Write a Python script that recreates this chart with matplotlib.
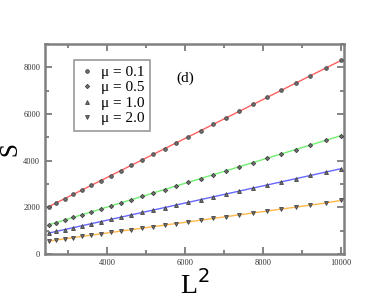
import matplotlib
matplotlib.use("Agg")
import matplotlib.pyplot as plt
from matplotlib.ticker import MultipleLocator

L2 = [2500, 2704, 2916, 3136, 3364, 3600, 3844, 4096, 4356, 4624, 4900, 5184, 5476,
      5776, 6084, 6400, 6724, 7056, 7396, 7744, 8100, 8464, 8836, 9216, 9604, 10000]
S_mu01 = [2030, 2201, 2378, 2562, 2752, 2950, 3154, 3364, 3582, 3806, 4036, 4274, 4518,
          4769, 5026, 5290, 5561, 5839, 6123, 6414, 6712, 7016, 7327, 7645, 7969, 8300]
S_mu05 = [1250, 1354, 1462, 1574, 1691, 1811, 1935, 2064, 2197, 2333, 2474, 2619, 2768,
          2921, 3078, 3239, 3404, 3574, 3747, 3924, 4106, 4292, 4481, 4675, 4873, 5080]
S_mu10 = [900, 975, 1053, 1134, 1218, 1305, 1395, 1487, 1583, 1682, 1783, 1888, 1995,
          2106, 2219, 2335, 2454, 2577, 2702, 2830, 2961, 3095, 3232, 3371, 3514, 3660]
S_mu20 = [560, 607, 655, 706, 758, 812, 868, 926, 986, 1047, 1110, 1175, 1242,
          1311, 1382, 1454, 1529, 1605, 1683, 1763, 1844, 1928, 2013, 2100, 2189, 2300]
labels = ["\u03bc = 0.1", "\u03bc = 0.5", "\u03bc = 1.0", "\u03bc = 2.0"]
xticks = [4000, 6000, 8000, 10000]
yticks = [0, 2000, 4000, 6000, 8000]

series = [S_mu01, S_mu05, S_mu10, S_mu20]
line_colors = ["#ff6060", "#70f070", "#6666ff", "#ffb84a"]
markers = ["o", "D", "^", "v"]
msizes = [2.6, 2.2, 2.8, 2.8]

plt.rcParams["font.family"] = ["Liberation Serif", "DejaVu Serif"]

fig = plt.figure(figsize=(3.88, 3.0), dpi=100)
ax = fig.add_axes([0.116, 0.153, 0.771, 0.700])

handles = []
for s, c, m, ms, lab in zip(series, line_colors, markers, msizes, labels):
    ax.plot(L2, s, color=c, lw=1.0, zorder=2)
    h, = ax.plot(L2, s, linestyle="none", marker=m, ms=ms, mfc="#707070",
                 mec="#404040", mew=0.6, zorder=3, label=lab)
    handles.append(h)

ax.set_xlim(2410, 10080)
ax.set_ylim(0, 9000)
ax.set_xticks(xticks)
ax.set_yticks(yticks)
ax.xaxis.set_minor_locator(MultipleLocator(1000))
ax.yaxis.set_minor_locator(MultipleLocator(1000))
ax.tick_params(which="both", direction="in", top=True, right=True,
               colors="#707070", labelcolor="#333333", labelsize=6, width=1.2)
ax.tick_params(which="major", length=5)
ax.tick_params(which="minor", length=3)
for sp in ax.spines.values():
    sp.set_color("#808080")
    sp.set_linewidth(1.8)

ax.set_xlabel(r"L$^2$", fontsize=20)
ax.xaxis.set_label_coords(0.5, -0.075)
ax.set_ylabel("S", fontsize=18)
ax.yaxis.set_label_coords(-0.08, 0.5)

leg = ax.legend(handles=handles, loc="upper left", bbox_to_anchor=(0.098, 0.925),
                fontsize=11, frameon=True, fancybox=False, handlelength=0.9,
                handletextpad=0.5, borderpad=0.35, labelspacing=0.12,
                borderaxespad=0)
leg.get_frame().set_edgecolor("#808080")
leg.get_frame().set_linewidth(1.2)

ax.text(0.44, 0.835, "(d)", transform=ax.transAxes, fontsize=11, ha="left", va="center")

fig.savefig("out.png", dpi=100)
